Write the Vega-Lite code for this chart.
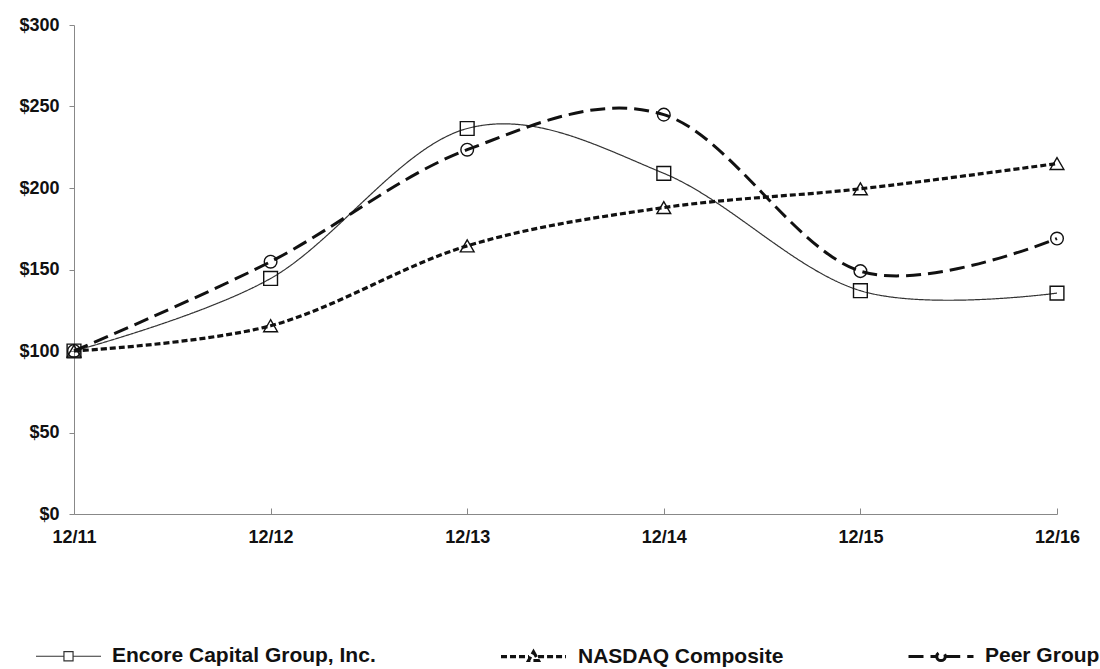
{
  "$schema": "https://vega.github.io/schema/vega-lite/v6.json",
  "width": 983,
  "height": 489,
  "autosize": {"type": "none"},
  "padding": {"left": 74, "top": 25, "right": 43, "bottom": 155},
  "background": "white",
  "config": {"view": {"stroke": null}, "font": "Liberation Sans"},
  "data": {
    "values": [
      {"date": "12/11", "series": "Encore Capital Group, Inc.", "value": 100},
      {"date": "12/12", "series": "Encore Capital Group, Inc.", "value": 144.5},
      {"date": "12/13", "series": "Encore Capital Group, Inc.", "value": 236.5},
      {"date": "12/14", "series": "Encore Capital Group, Inc.", "value": 209},
      {"date": "12/15", "series": "Encore Capital Group, Inc.", "value": 137},
      {"date": "12/16", "series": "Encore Capital Group, Inc.", "value": 135.5},
      {"date": "12/11", "series": "NASDAQ Composite", "value": 100},
      {"date": "12/12", "series": "NASDAQ Composite", "value": 115.5},
      {"date": "12/13", "series": "NASDAQ Composite", "value": 164.5},
      {"date": "12/14", "series": "NASDAQ Composite", "value": 188},
      {"date": "12/15", "series": "NASDAQ Composite", "value": 199.5},
      {"date": "12/16", "series": "NASDAQ Composite", "value": 215},
      {"date": "12/11", "series": "Peer Group", "value": 100},
      {"date": "12/12", "series": "Peer Group", "value": 154.8},
      {"date": "12/13", "series": "Peer Group", "value": 223.5},
      {"date": "12/14", "series": "Peer Group", "value": 245},
      {"date": "12/15", "series": "Peer Group", "value": 149},
      {"date": "12/16", "series": "Peer Group", "value": 169}
    ]
  },
  "encoding": {
    "x": {
      "field": "date", "type": "ordinal",
      "scale": {"type": "point", "padding": 0},
      "axis": {
        "title": null, "labelAngle": 0, "labelFontSize": 18, "labelFontWeight": "bold",
        "labelColor": "#111", "domainColor": "#888", "tickColor": "#888",
        "tickSize": -6, "labelPadding": 20, "grid": false
      }
    },
    "y": {
      "field": "value", "type": "quantitative",
      "scale": {"domain": [0, 300], "nice": false},
      "axis": {
        "title": null, "values": [0, 50, 100, 150, 200, 250, 300],
        "labelExpr": "'$' + datum.value", "labelFontSize": 18, "labelFontWeight": "bold",
        "labelColor": "#111", "domainColor": "#888", "tickColor": "#888",
        "tickSize": 5, "labelPadding": 10, "grid": false
      }
    }
  },
  "layer": [
    {
      "mark": {"type": "line", "interpolate": "cardinal"},
      "encoding": {
        "strokeDash": {
          "field": "series", "type": "nominal",
          "scale": {
            "domain": ["Encore Capital Group, Inc.", "NASDAQ Composite", "Peer Group"],
            "range": [[1, 0], [6, 3], [15, 7]]
          },
          "legend": {
            "title": null, "orient": "none", "legendX": -39, "legendY": 597,
            "direction": "horizontal", "labelFontSize": 21, "labelFontWeight": "bold",
            "labelColor": "#111", "labelLimit": 400, "labelOffset": 10,
            "symbolSize": 4225, "columnPadding": 118,
            "symbolStrokeColor": "#111", "symbolFillColor": "transparent",
            "encode": {
              "symbols": {
                "update": {
                  "shape": {"signal": "datum.value === 'Encore Capital Group, Inc.' ? 'M-1,0H-0.14M0.14,0H1M-0.14,-0.14H0.14V0.14H-0.14Z' : datum.value === 'NASDAQ Composite' ? 'M-1,0H-0.14M0.14,0H1M0,-0.15L0.15,0.12H-0.15Z' : 'M-1,0H-0.13M0.13,0H1M-0.13,0A0.13,0.13 0 1,0 0.13,0A0.13,0.13 0 1,0 -0.13,0'"},
                  "size": {"value": 4225}
                }
              }
            }
          }
        },
        "strokeWidth": {
          "field": "series", "type": "nominal",
          "scale": {
            "type": "ordinal",
            "domain": ["Encore Capital Group, Inc.", "NASDAQ Composite", "Peer Group"],
            "range": [1.2, 3.2, 3]
          }
        },
        "color": {
          "field": "series", "type": "nominal",
          "scale": {
            "domain": ["Encore Capital Group, Inc.", "NASDAQ Composite", "Peer Group"],
            "range": ["#333333", "#111111", "#111111"]
          }
        }
      }
    },
    {
      "transform": [{"filter": "datum.series === 'Encore Capital Group, Inc.'"}],
      "mark": {"type": "point", "shape": "square", "size": 190, "filled": false, "strokeWidth": 1.4, "opacity": 1, "color": "#111"}
    },
    {
      "transform": [{"filter": "datum.series === 'NASDAQ Composite'"}],
      "mark": {"type": "point", "shape": "triangle-up", "size": 190, "filled": false, "strokeWidth": 1.4, "opacity": 1, "color": "#111"}
    },
    {
      "transform": [{"filter": "datum.series === 'Peer Group'"}],
      "mark": {"type": "point", "shape": "circle", "size": 160, "filled": false, "strokeWidth": 1.4, "opacity": 1, "color": "#111"}
    }
  ]
}
